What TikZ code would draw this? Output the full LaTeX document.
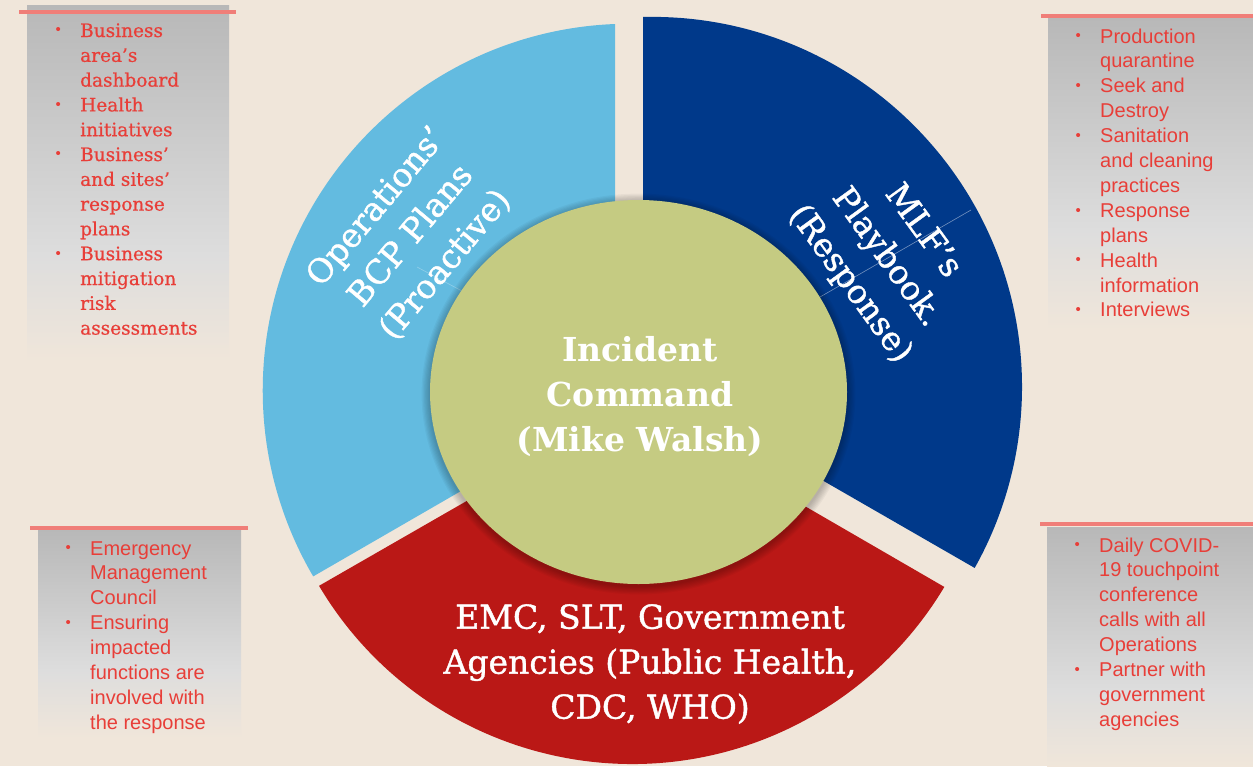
\documentclass[tikz,border=0pt]{standalone}
\usepackage{fontspec}
\setmainfont{DejaVu Serif}
\newfontfamily\sansf{Liberation Sans}
\newfontfamily\heavyserif{DejaVu Serif}[FakeBold=1.2]
\newfontfamily\listserif{DejaVu Serif}[FakeBold=0.6]
\definecolor{bg}{RGB}{240,230,218}
\definecolor{lblue}{RGB}{99,187,224}
\definecolor{dblue}{RGB}{0,57,138}
\definecolor{dred}{RGB}{186,24,22}
\definecolor{olive}{RGB}{197,203,130}
\definecolor{boxtxt}{RGB}{232,62,56}
\definecolor{boxline}{RGB}{240,126,120}
\definecolor{boxtop}{RGB}{184,184,184}
\definecolor{boxmid}{RGB}{221,221,221}
\newcommand\bul{\raisebox{2.2pt}{\sansf\fontsize{15}{15}\selectfont\textbullet}}
\newcommand\bcell{\makebox[44pt]{\bul}}
\begin{document}
\begin{tikzpicture}[x=1pt,y=-1pt,
  ringtext/.style={text=white, align=center, inner sep=0pt, font=\heavyserif\fontsize{33}{45}\selectfont},
  centertext/.style={text=white, align=center, inner sep=0pt, font=\bfseries\fontsize{33}{45}\selectfont},
  redtext/.style={text=white, align=center, inner sep=0pt, font=\heavyserif\fontsize{33}{45}\selectfont},
  seriflist/.style={text=boxtxt, anchor=base west, inner sep=0pt, font=\listserif\fontsize{18.5}{24.8}\selectfont},
  sanslist/.style={text=boxtxt, anchor=base west, inner sep=0pt, font=\sansf\fontsize{20}{24.9}\selectfont},
  topline/.style={boxline, line width=4.5pt}]
% background
\fill[bg] (0,0) rectangle (1253,766);
\useasboundingbox (0,0) rectangle (1253,766);
% grey boxes
\shade[top color=boxtop, bottom color=boxmid] (27,5) rectangle (229,255);
\shade[top color=boxmid, bottom color=bg] (27,255) rectangle (229,362);
\shade[top color=boxtop, bottom color=boxmid] (1048,18) rectangle (1253,230);
\shade[top color=boxmid, bottom color=bg] (1048,230) rectangle (1253,330);
\shade[top color=boxtop, bottom color=boxmid] (38,530) rectangle (241,670);
\shade[top color=boxmid, bottom color=bg] (38,670) rectangle (241,738);
\shade[top color=boxtop, bottom color=boxmid] (1047,527) rectangle (1253,690);
\shade[top color=boxmid, bottom color=bg] (1047,690) rectangle (1253,766);
\draw[topline] (19,12) -- (236,12);
\draw[topline] (1041,16) -- (1253,16);
\draw[topline] (30,528) -- (248,528);
\draw[topline] (1040,524) -- (1253,524);
% ring segments
\fill[lblue] (615,402) -- (615,24) arc[start angle=-92.3, end angle=-210.4, radius=367] -- cycle;
\fill[dblue] (643,377) -- (643,17) arc[start angle=-91.4, end angle=29.3, radius=370] -- cycle;
\fill[dred] (632,406) -- ([shift={(632,400)}]149.3:364) arc[start angle=149.3, end angle=30.9, radius=364] -- cycle;
% faint artefact lines
\draw[white, opacity=0.45, line width=0.6pt] (971,210) -- (820,297);
\draw[white, opacity=0.3, line width=0.6pt] (417,267) -- (462,291);
% centre ellipse with soft shadow
\foreach \i in {1,...,7}
  \fill[black, opacity=0.035] (638.5,394) ellipse [x radius=208.5+\i*1.2, y radius=192+\i*1.2];
\fill[olive] (638.5,392) ellipse [x radius=208.5, y radius=192];
% ring texts
\node[ringtext, rotate=50] (lbt) at (411,236) {Operations’\\BCP Plans\\(Proactive)};
\node[ringtext, rotate=-54] (dbt) at (886,258) {MLF’s\\Playbook.\\(Response)};
\node[centertext] (ic) at (640,397) {Incident\\Command\\(Mike Walsh)};
\node[redtext] (rt) at (650,664) {EMC, SLT, Government\\Agencies (Public Health,\\CDC, WHO)};
% lists
\node[seriflist] (tl) at (36,37) {\begin{tabular}[t]{@{}l@{}l@{}}
\bcell & Business\\ & area’s\\ & dashboard\\
\bcell & Health\\ & initiatives\\
\bcell & Business’\\ & and sites’\\ & response\\ & plans\\
\bcell & Business\\ & mitigation\\ & risk\\ & assessments
\end{tabular}};
\node[sanslist] (tr) at (1056,43) {\begin{tabular}[t]{@{}l@{}l@{}}
\bcell & Production\\ & quarantine\\
\bcell & Seek and\\ & Destroy\\
\bcell & Sanitation\\ & and cleaning\\ & practices\\
\bcell & Response\\ & plans\\
\bcell & Health\\ & information\\
\bcell & Interviews
\end{tabular}};
\node[sanslist] (bl) at (46,555) {\begin{tabular}[t]{@{}l@{}l@{}}
\bcell & Emergency\\ & Management\\ & Council\\
\bcell & Ensuring\\ & impacted\\ & functions are\\ & involved with\\ & the response
\end{tabular}};
\node[sanslist] (br) at (1055,552) {\begin{tabular}[t]{@{}l@{}l@{}}
\bcell & Daily COVID-\\ & 19 touchpoint\\ & conference\\ & calls with all\\ & Operations\\
\bcell & Partner with\\ & government\\ & agencies
\end{tabular}};
\end{tikzpicture}
\end{document}
